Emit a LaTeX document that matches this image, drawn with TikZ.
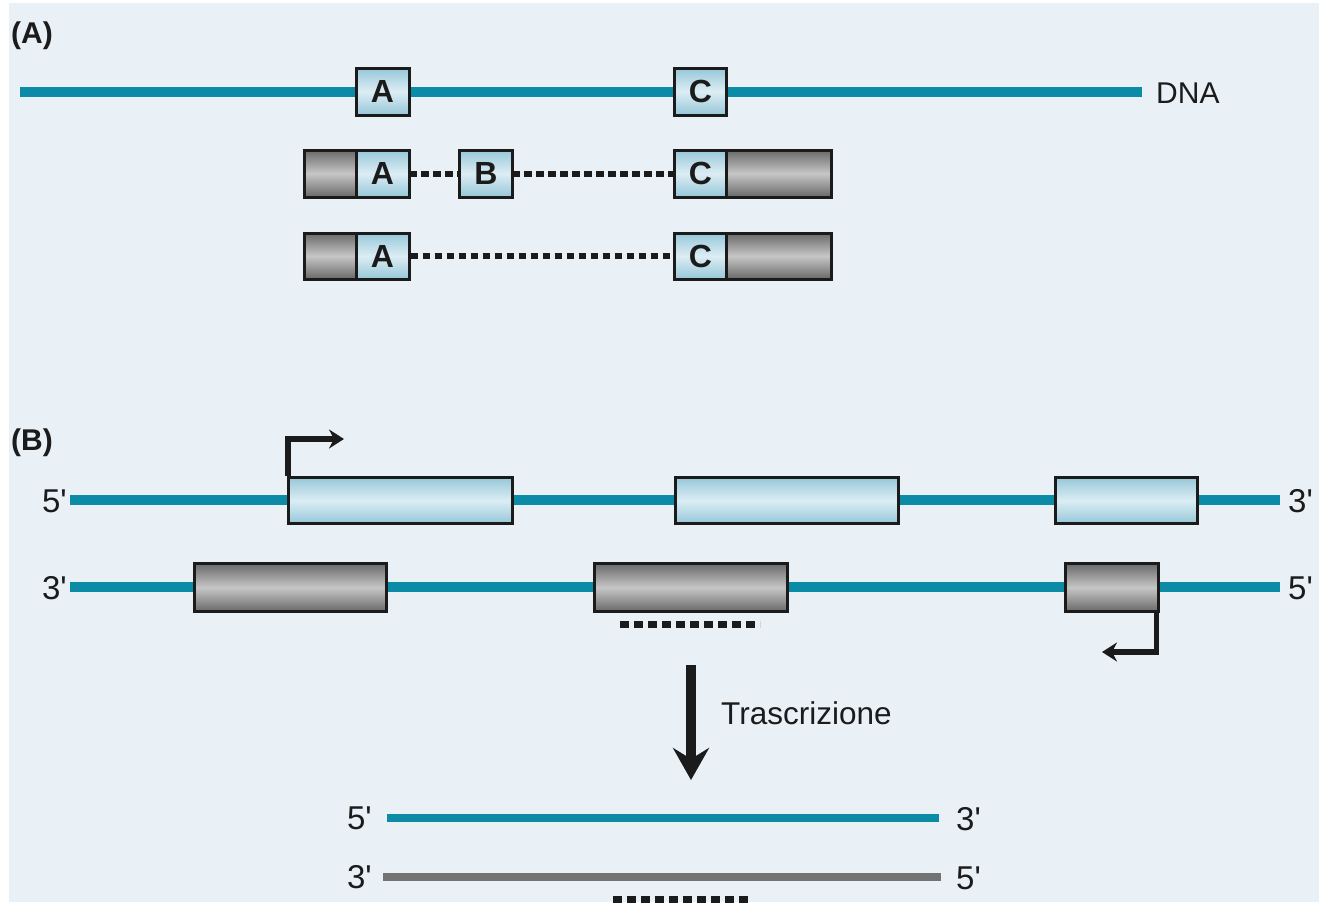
\documentclass[tikz,border=0pt]{standalone}
\usepackage{fontspec}
\setmainfont{Liberation Sans}
% plain family without TeX ligature mapping, so ' stays a straight prime
\newfontfamily\primefont{Liberation Sans}
\usetikzlibrary{arrows.meta}

\definecolor{bg}{HTML}{E9F1F7}
\definecolor{strand}{HTML}{0C8BA7}
\definecolor{exonhi}{HTML}{DCEDF4}
\definecolor{exonlo}{HTML}{96C7D9}
\definecolor{grayhi}{HTML}{C6C6C6}
\definecolor{graylo}{HTML}{696969}
\definecolor{ink}{HTML}{1B1B1B}
\definecolor{rnagray}{HTML}{737373}

\newcommand\pr{{\primefont'}}

\tikzset{
  box/.style={draw=ink, line width=3pt, inner sep=0pt, text=ink,
    font=\fontsize{32}{32}\bfseries\selectfont},
  bluebox/.style={box, top color=exonlo, bottom color=exonlo, middle color=exonhi},
  graybox/.style={box, top color=graylo, bottom color=graylo, middle color=grayhi},
  dnaline/.style={line width=10pt, draw=strand},
  rnaline/.style={line width=8.5pt, draw=strand},
  asline/.style={line width=7.5pt, draw=rnagray},
  dotsA/.style={line width=6.5pt, draw=ink, dash pattern=on 7.5pt off 4.5pt},
  dotsB/.style={line width=7pt, draw=ink, dash pattern=on 9pt off 5pt},
  promoter/.style={line width=5.5pt, draw=ink,
    -{Stealth[length=15pt,width=19pt,inset=5pt]}},
  bigarrow/.style={line width=10.5pt, draw=ink,
    -{Stealth[length=32pt,width=36pt,inset=11pt]}},
  panel/.style={inner sep=0pt, anchor=west, text=ink,
    font=\fontsize{30}{30}\bfseries\selectfont},
  lbl/.style={inner sep=0pt, text=ink, font=\fontsize{30}{30}\selectfont},
  prime/.style={inner sep=0pt, text=ink, font=\fontsize{33}{33}\selectfont},
}

\begin{document}
\begin{tikzpicture}[x=1pt, y=-1pt]
  \useasboundingbox (0,0) rectangle (1319,902);
  \fill[bg] (9,3) rectangle (1319,902);

  % ---------------- panel A ----------------
  \node[panel] (labA) at (11,36) {(A)};

  \coordinate (dnaL) at (20,92);
  \coordinate (dnaR) at (1142,92);
  \draw[dnaline] (dnaL) -- (dnaR);
  \node[bluebox, minimum width=53pt, minimum height=47pt] (dA) at (382.5,91.5) {A};
  \node[bluebox, minimum width=52pt, minimum height=47pt] (dC) at (700.5,91.5) {C};
  \node[lbl, anchor=west] (dnalbl) at (1156,93) {DNA};

  % transcript with exon B
  \draw[dotsA] (409,174) -- (460,174);
  \draw[dotsA] (512,174) -- (675,174);
  \node[graybox, minimum width=52pt, minimum height=47pt] (r1g1) at (330,173.5) {};
  \node[bluebox, minimum width=53pt, minimum height=47pt] (r1A) at (382.5,173.5) {A};
  \node[bluebox, minimum width=53pt, minimum height=47pt] (r1B) at (486,173.5) {B};
  \node[bluebox, minimum width=52pt, minimum height=47pt] (r1C) at (700.5,173.5) {C};
  \node[graybox, minimum width=105pt, minimum height=47pt] (r1g2) at (779,173.5) {};

  % transcript without exon B
  \node[graybox, minimum width=52pt, minimum height=46pt] (r2g1) at (330,256) {};
  \node[bluebox, minimum width=53pt, minimum height=46pt] (r2A) at (382.5,256) {A};
  \node[bluebox, minimum width=52pt, minimum height=46pt] (r2C) at (700.5,256) {C};
  \node[graybox, minimum width=105pt, minimum height=46pt] (r2g2) at (779,256) {};
  \draw[dotsA] (r2A.east) -- (r2C.west);

  % ---------------- panel B ----------------
  \node[panel] (labB) at (11,443) {(B)};

  % sense strand
  \coordinate (s1L) at (70,500);
  \coordinate (s1R) at (1280,500);
  \draw[dnaline] (s1L) -- (s1R);
  \node[prime, anchor=east] (s1l5) at (67,501) {5\pr};
  \node[prime, anchor=west] (s1r3) at (1288,501) {3\pr};
  \node[bluebox, minimum width=224pt, minimum height=46pt] (e1) at (400,500.5) {};
  \node[bluebox, minimum width=223pt, minimum height=46pt] (e2) at (786.5,500.5) {};
  \node[bluebox, minimum width=142pt, minimum height=46pt] (e3) at (1126.5,500.5) {};

  % antisense strand
  \coordinate (s2L) at (70,587);
  \coordinate (s2R) at (1280,587);
  \draw[dnaline] (s2L) -- (s2R);
  \node[prime, anchor=east] (s2l3) at (67,588) {3\pr};
  \node[prime, anchor=west] (s2r5) at (1288,588) {5\pr};
  \node[graybox, minimum width=192pt, minimum height=48pt] (g1) at (290,587.5) {};
  \node[graybox, minimum width=193pt, minimum height=48pt] (g2) at (690.5,587.5) {};
  \node[graybox, minimum width=93pt, minimum height=48pt] (g3) at (1111.5,587.5) {};
  \draw[dotsB] (620,624.5) -- (760,624.5);

  % transcription start sites
  \coordinate (tss1) at (344,439);
  \draw[promoter] (e1.north west) ++(1.5pt,0) |- (tss1);
  \coordinate (tss2) at (1102,652);
  \draw[promoter] (g3.south east) ++(-3pt,0) |- (tss2);

  % transcription
  \coordinate (trTop) at (691,665);
  \coordinate (trBot) at (691,780);
  \draw[bigarrow] (trTop) -- (trBot);
  \node[lbl, anchor=west, font=\fontsize{31.5}{31.5}\selectfont] (trlbl) at (721,713) {Trascrizione};

  % resulting transcripts
  \coordinate (rnaL) at (387,818);
  \coordinate (rnaR) at (939,818);
  \draw[rnaline] (rnaL) -- (rnaR);
  \node[prime, anchor=east] (rna5) at (372,818) {5\pr};
  \node[prime, anchor=west] (rna3) at (956,819) {3\pr};

  \coordinate (asL) at (383,877);
  \coordinate (asR) at (941,877);
  \draw[asline] (asL) -- (asR);
  \node[prime, anchor=east] (as3) at (372,877) {3\pr};
  \node[prime, anchor=west] (as5) at (956,878) {5\pr};
  \draw[dotsB] (613,899) -- (751,899);
\end{tikzpicture}
\end{document}
